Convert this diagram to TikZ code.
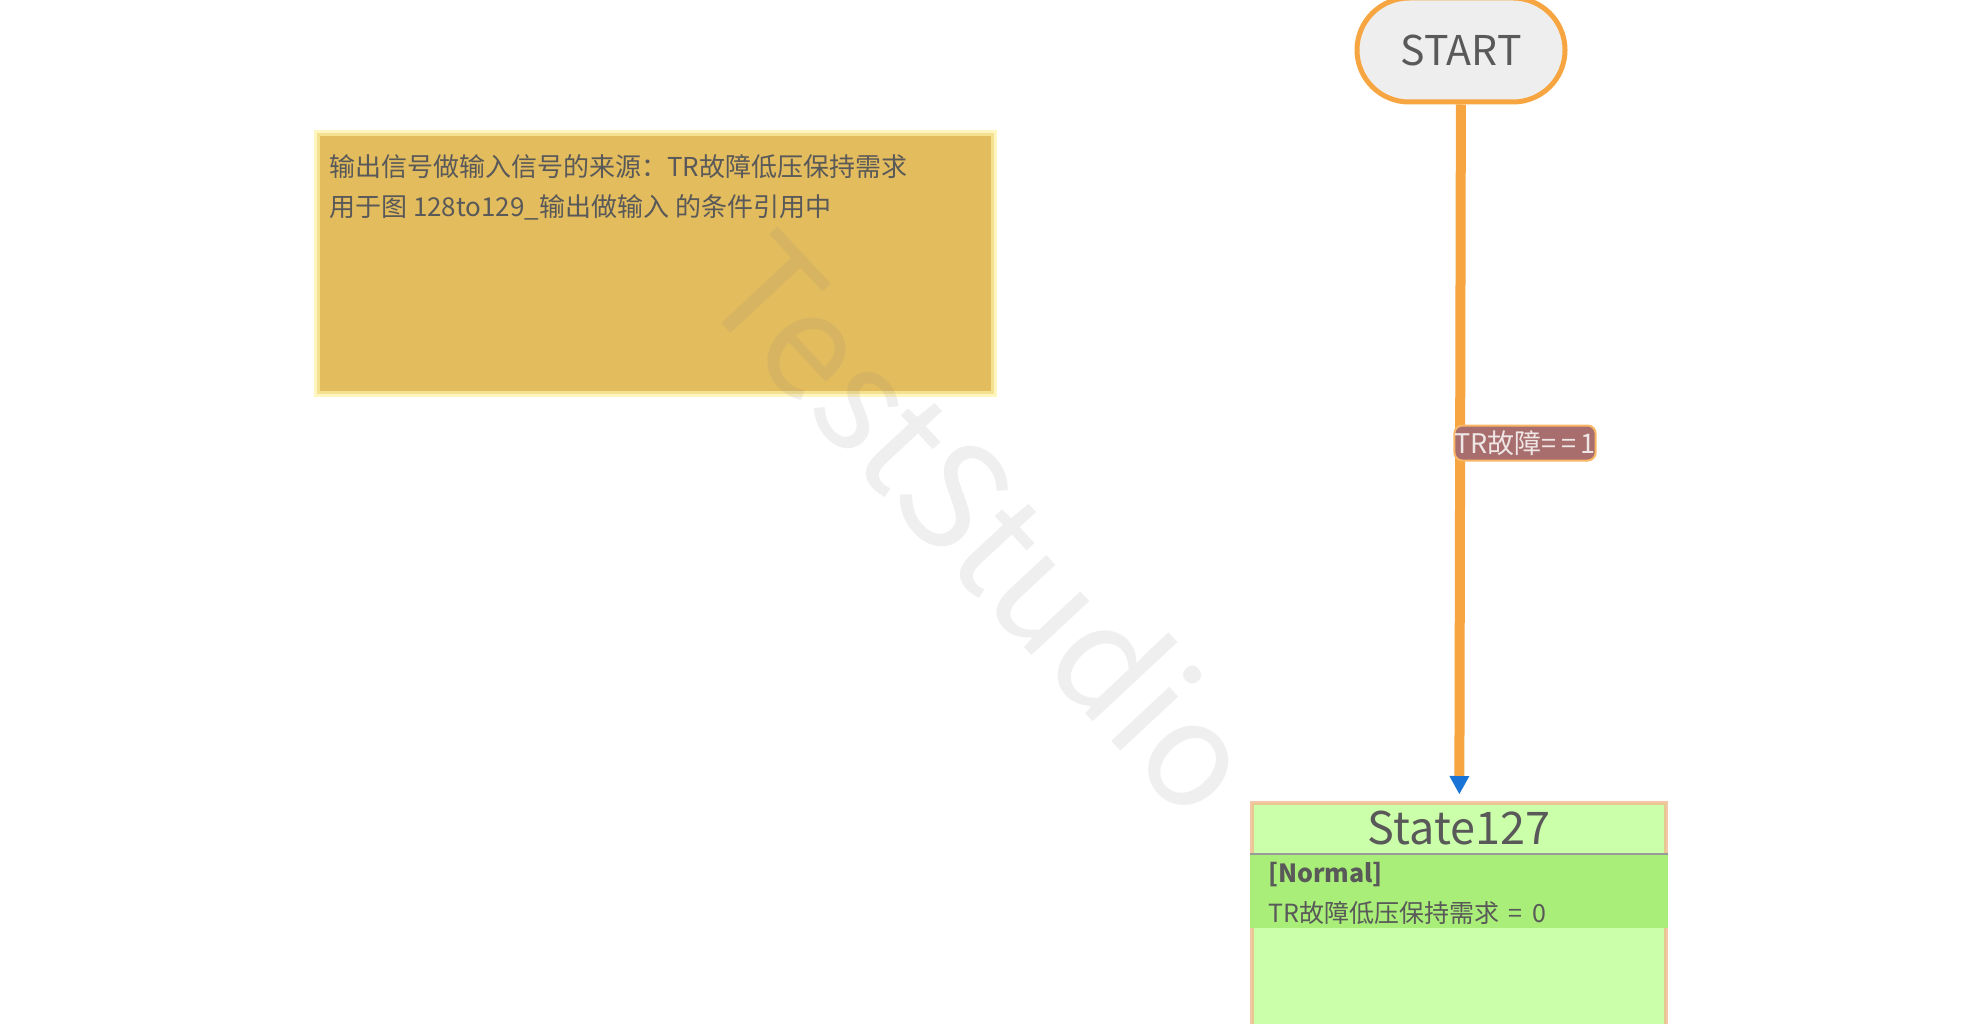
\documentclass[tikz,border=0pt]{standalone}
\usepackage{fontspec}
\setmainfont{Noto Sans CJK SC}
\usepackage{tikz}
\usetikzlibrary{positioning, calc, shapes, arrows.meta}
\definecolor{flow}{HTML}{F7A540}
\definecolor{tipblue}{HTML}{1A73D6}
\definecolor{ink}{HTML}{595959}
\definecolor{startfill}{HTML}{EEEEEE}
\definecolor{guardfill}{HTML}{A86E6E}
\definecolor{guardtext}{HTML}{EFE6E6}
\definecolor{notefill}{HTML}{E3BC5E}
\definecolor{noteglow}{HTML}{FFF1A8}
\definecolor{statefill}{HTML}{CCFFAA}
\definecolor{stateband}{HTML}{A8EE78}
\definecolor{stateglow}{HTML}{EFB98E}
\tikzstyle{Flow} = [
%transition line, orange with a blue head:
line width = 10pt, draw = flow,
-{Triangle[length = 18pt, width = 20pt, line width = 0pt, color = tipblue]},
shorten >= 7pt
]

\begin{document}
\begin{tikzpicture}[x = 1pt, y = -1pt,
		terminal/.style = {rectangle, rounded corners = 52pt, line width = 5pt, draw = flow, fill = startfill, text = ink, minimum width = 208pt, minimum height = 104pt, font = \fontsize{41}{48}\selectfont},
		guard/.style = {rectangle, rounded corners = 8pt, line width = 2pt, draw = flow!80, fill = guardfill, text = guardtext, inner sep = 0pt, minimum width = 134pt, minimum height = 35pt, font = \fontsize{27}{32}\selectfont},
		note/.style = {rectangle, fill = notefill, draw = noteglow, draw opacity = 0.7, line width = 6pt, inner sep = 0pt, minimum width = 677pt, minimum height = 261pt},
		notetext/.style = {text = ink, inner sep = 0pt, align = left, font = \fontsize{26}{40}\selectfont},
		state/.style = {rectangle, fill = statefill, draw = stateglow, draw opacity = 0.8, line width = 4pt, inner sep = 0pt, minimum width = 414pt, minimum height = 300pt},
		title/.style = {text = ink, inner sep = 0pt, font = \fontsize{45}{54}\selectfont},
		entry/.style = {text = ink, inner sep = 0pt, font = \fontsize{25}{30}\selectfont},
		watermark/.style = {text = gray, opacity = 0.12, rotate = -47, inner sep = 0pt, font = \fontsize{146}{150}\selectfont},
	]
	\clip (0,0) rectangle (1980,1024);
	\fill[white] (0,0) rectangle (1980,1024);

	% note
	\node[note, anchor = north west](memo) at (314,130){};
	\node[notetext, below right = 24pt and 15pt of memo.north west, anchor = north west](memotext){输出信号做输入信号的来源：TR故障低压保持需求\\用于图 128to129\_输出做输入 的条件引用中};

	% states
	\node[terminal](start) at (1461,50){START};
	\node[state, anchor = north](s127) at (1459,801){};
	\fill[stateband] ($(s127.north west)+(0,53)$) rectangle ($(s127.north east)+(0,127)$);
	\draw[line width = 2pt, draw = gray!80] ($(s127.north west)+(0,53)$) -- ($(s127.north east)+(0,53)$);
	\node[title](s127name) at ($(s127.north)+(0,27)$){State127};
	\node[entry, anchor = west](normal) at (1268,875){\textbf{[Normal]}};
	\node[entry, anchor = west](assign) at (1268,913){TR故障低压保持需求\,\ =\ \,0};

	% transition
	\draw[Flow](start)--(s127);
	\node[guard](cond) at (1525,443){TR故障=\,=\,1};

	\node[watermark](wm) at (985,522){TestStudio};
\end{tikzpicture}
\end{document}
